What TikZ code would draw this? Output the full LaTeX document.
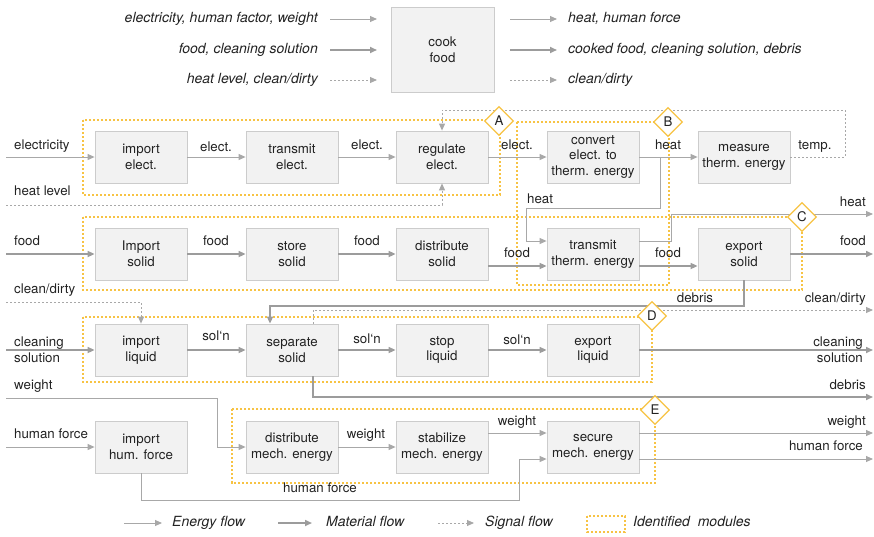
\documentclass[tikz,border=0pt]{standalone}
\usepackage{fontspec}
\setmainfont{TeX Gyre Heros}
\usetikzlibrary{arrows.meta,shapes.geometric}
\definecolor{boxfill}{HTML}{F2F2F2}
\definecolor{boxline}{HTML}{CCCCCC}
\definecolor{flowgray}{HTML}{A8A8A8}
\definecolor{matgray}{HTML}{9C9C9C}
\definecolor{modorange}{HTML}{F7C344}
\definecolor{ink}{HTML}{222222}
\begin{document}
\begin{tikzpicture}[x=1pt,y=-1pt,
  font=\fontsize{13.3}{15.8}\selectfont, text=ink,
  fbox/.style={draw=boxline, fill=boxfill, line width=0.8pt, minimum width=92pt,
    minimum height=52pt, align=center, inner sep=1pt},
  flowtip/.style={-{Triangle[width=6pt,length=7pt]}},
  energy/.style={draw=flowgray, line width=0.9pt, flowtip},
  material/.style={draw=matgray, line width=1.6pt, flowtip},
  signal/.style={draw=flowgray, line width=0.9pt, dash pattern=on 2pt off 2pt, flowtip},
  module/.style={draw=modorange, line width=1.3pt, dash pattern=on 2.4pt off 1.6pt},
  tag/.style={diamond, draw=modorange, fill=white, line width=1.2pt,
    minimum width=29pt, minimum height=29pt, inner sep=0pt},
  lbl/.style={inner sep=0pt, text height=9.6pt, text depth=2.8pt},
  leg/.style={lbl, font=\fontsize{14}{16}\selectfont\itshape},
]
\useasboundingbox (0,0) rectangle (874,536);

% ---- identified modules
\draw[module] (83,120) rectangle (500,195);
\draw[module] (517,122) rectangle (669,285);
\draw[module] (83,217) rectangle (802,290);
\draw[module] (83,317) rectangle (652,382);
\draw[module] (232,409) rectangle (655,483);

% ---- overall function
\node[fbox, minimum width=103pt, minimum height=85pt] (cook) at (442.5,49.5) {cook\\food};

% ---- function blocks
\node[fbox] (impe) at (141,157) {import\\elect.};
\node[fbox] (trne) at (292,157) {transmit\\elect.};
\node[fbox] (rege) at (442,157) {regulate\\elect.};
\node[fbox] (conv) at (593,157) {convert\\elect. to\\therm. energy};
\node[fbox] (meas) at (744,157) {measure\\therm. energy};
\node[fbox] (imps) at (141,254) {Import\\solid};
\node[fbox] (stos) at (292,254) {store\\solid};
\node[fbox] (diss) at (442,254) {distribute\\solid};
\node[fbox] (trth) at (593,254) {transmit\\therm. energy};
\node[fbox] (exps) at (744,254) {export\\solid};
\node[fbox] (impl) at (141,350) {import\\liquid};
\node[fbox] (seps) at (292,350) {separate\\solid};
\node[fbox] (stol) at (442,350) {stop\\liquid};
\node[fbox] (expl) at (593,350) {export\\liquid};
\node[fbox] (imph) at (141,447) {import\\hum. force};
\node[fbox] (dism) at (292,447) {distribute\\mech. energy};
\node[fbox] (stam) at (442,447) {stabilize\\mech. energy};
\node[fbox] (secm) at (593,447) {secure\\mech. energy};

% ---- free ends of flows
\coordinate (inElec) at (6,157);
\coordinate (inHeatLvl) at (6,205);
\coordinate (inFood) at (6,254);
\coordinate (inClean) at (6,302);
\coordinate (inSol) at (6,350);
\coordinate (inWeight) at (6,398);
\coordinate (inForce) at (6,447);
\coordinate (outHeat) at (873,214);
\coordinate (outFood) at (873,254);
\coordinate (outClean) at (873,310);
\coordinate (outSol) at (873,350);
\coordinate (outDebris) at (873,397);
\coordinate (outWeight) at (873,433);
\coordinate (outForce) at (873,459);
\coordinate (heatSplit) at (660,157);
\coordinate (heatBend) at (526,208);
\coordinate (heatRise) at (671,241);
\coordinate (tempTop) at (845,110);
\coordinate (debBend) at (270,306);
\coordinate (wBend) at (217,447);
\coordinate (hfBend) at (519,500);

% ---- electricity / heat
\draw[energy] (inElec) -- (impe.west);
\draw[energy] (impe.east) -- (trne.west);
\draw[energy] (trne.east) -- (rege.west);
\draw[energy] (rege.east) -- (conv.west);
\draw[energy] (conv.east) -- (meas.west);
\draw[energy] (heatSplit) |- (heatBend) |- (trth.west |- 0,241);
\draw[energy] (trth.east |- 0,241) -- (heatRise) |- (outHeat);
\draw[signal] (inHeatLvl) -| (rege.south);
\draw[signal] (meas.east) -| (tempTop) -| (rege.north);

% ---- food
\draw[material] (inFood) -- (imps.west);
\draw[material] (imps.east) -- (stos.west);
\draw[material] (stos.east) -- (diss.west);
\draw[material] (diss.east |- 0,266) -- (trth.west |- 0,266);
\draw[material] (trth.east |- 0,266) -- (exps.west |- 0,266);
\draw[material] (exps.east) -- (outFood);
\draw[material] (exps.south) |- (debBend) -- (seps.north -| debBend);

% ---- cleaning solution
\draw[signal] (inClean) -| (impl.north);
\draw[signal] (seps.north -| 313,0) |- (outClean);
\draw[material] (inSol) -- (impl.west);
\draw[material] (impl.east) -- (seps.west);
\draw[material] (seps.east) -- (stol.west);
\draw[material] (stol.east) -- (expl.west);
\draw[material] (expl.east) -- (outSol);
\draw[material] (seps.south -| 313,0) |- (outDebris);

% ---- mechanical energy
\draw[energy] (inWeight) -| (wBend) -- (dism.west);
\draw[energy] (inForce) -- (imph.west);
\draw[energy] (imph.south) |- (hfBend) |- (secm.west |- 0,459);
\draw[energy] (dism.east) -- (stam.west);
\draw[energy] (stam.east |- 0,433) -- (secm.west |- 0,433);
\draw[energy] (secm.east |- 0,433) -- (outWeight);
\draw[energy] (secm.east |- 0,459) -- (outForce);

% ---- module tags
\node[tag] (tA) at (499,121) {A};
\node[tag] (tB) at (668,122) {B};
\node[tag] (tC) at (802,217) {C};
\node[tag] (tD) at (652,316) {D};
\node[tag] (tE) at (655,410) {E};

% ---- flow labels
\node[lbl, anchor=west] (lElec) at (14,146) {electricity};
\node[lbl, anchor=west] (lHeatLvl) at (14,192) {heat level};
\node[lbl] (lE1) at (216,148) {elect.};
\node[lbl] (lE2) at (367,146) {elect.};
\node[lbl] (lE3) at (517,146) {elect.};
\node[lbl] (lH1) at (668,146) {heat};
\node[lbl] (lTemp) at (815,146) {temp.};
\node[lbl, anchor=west] (lH2) at (527,200) {heat};
\node[lbl, anchor=east] (lH3) at (866,203) {heat};
\node[lbl, anchor=west] (lFood) at (14,242) {food};
\node[lbl] (lF1) at (216,242) {food};
\node[lbl] (lF2) at (367,242) {food};
\node[lbl] (lF3) at (517,254) {food};
\node[lbl] (lF4) at (668,254) {food};
\node[lbl, anchor=east] (lF5) at (866,242) {food};
\node[lbl, anchor=west] (lClean) at (14,290) {clean/dirty};
\node[lbl] (lDeb1) at (695,299) {debris};
\node[lbl, anchor=east] (lClean2) at (866,299) {clean/dirty};
\node[inner sep=0pt, anchor=west, align=left] (lSol) at (14,350) {cleaning\\solution};
\node[lbl] (lS1) at (216,337) {sol‘n};
\node[lbl] (lS2) at (367,340) {sol‘n};
\node[lbl] (lS3) at (517,341) {sol‘n};
\node[inner sep=0pt, anchor=east, align=right] (lSol2) at (863,350) {cleaning\\solution};
\node[lbl, anchor=west] (lWeight) at (14,386) {weight};
\node[lbl, anchor=east] (lDeb2) at (866,386) {debris};
\node[lbl, anchor=west] (lForce) at (14,435) {human force};
\node[lbl] (lW1) at (366,435) {weight};
\node[lbl] (lW2) at (517,422) {weight};
\node[lbl, anchor=east] (lW3) at (866,422) {weight};
\node[lbl, anchor=east] (lHF2) at (863,447) {human force};
\node[lbl] (lHF1) at (320,489) {human force};

% ---- legend of the overall function
\coordinate (a1s) at (330,19); \coordinate (a1e) at (377,19);
\coordinate (a2s) at (330,50); \coordinate (a2e) at (377,50);
\coordinate (a3s) at (330,80); \coordinate (a3e) at (377,80);
\coordinate (b1s) at (510,19); \coordinate (b1e) at (557,19);
\coordinate (b2s) at (510,50); \coordinate (b2e) at (557,50);
\coordinate (b3s) at (510,80); \coordinate (b3e) at (557,80);
\draw[energy] (a1s) -- (a1e);
\draw[material] (a2s) -- (a2e);
\draw[signal] (a3s) -- (a3e);
\draw[energy] (b1s) -- (b1e);
\draw[material] (b2s) -- (b2e);
\draw[signal] (b3s) -- (b3e);
\node[leg, anchor=east] (ti1) at (318,19) {electricity, human factor, weight};
\node[leg, anchor=east] (ti2) at (318,50) {food, cleaning solution};
\node[leg, anchor=east] (ti3) at (318,80) {heat level, clean/dirty};
\node[leg, anchor=west] (to1) at (568,19) {heat, human force};
\node[leg, anchor=west] (to2) at (568,50) {cooked food, cleaning solution, debris};
\node[leg, anchor=west] (to3) at (568,80) {clean/dirty};

% ---- key
\coordinate (k1s) at (124,523); \coordinate (k1e) at (162,523);
\coordinate (k2s) at (278,523); \coordinate (k2e) at (312,523);
\coordinate (k3s) at (438,523); \coordinate (k3e) at (474,523);
\draw[energy] (k1s) -- (k1e);
\draw[material] (k2s) -- (k2e);
\draw[signal] (k3s) -- (k3e);
\draw[module] (587,516) rectangle (625,532);
\node[leg, anchor=west] (k1) at (172,523) {Energy flow};
\node[leg, anchor=west] (k2) at (326,523) {Material flow};
\node[leg, anchor=west] (k3) at (485,523) {Signal flow};
\node[leg, anchor=west] (k4) at (633,523) {Identified\ \ modules};
\end{tikzpicture}
\end{document}
